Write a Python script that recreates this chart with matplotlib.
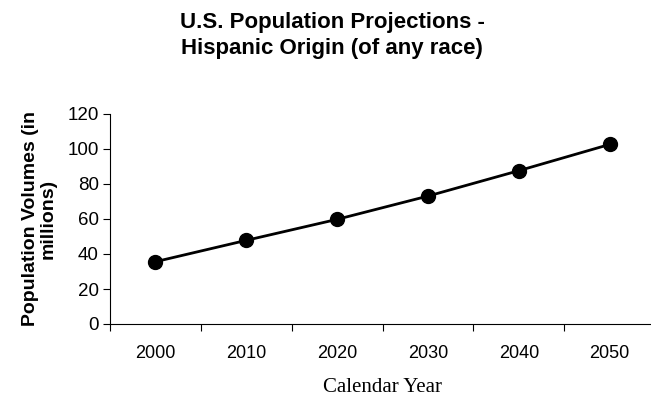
import numpy as np
import matplotlib.pyplot as plt

years = ["2000", "2010", "2020", "2030", "2040", "2050"]
hispanic_millions = [35.6, 47.8, 59.8, 73.1, 87.6, 102.6]
y_ticks = [0, 20, 40, 60, 80, 100, 120]

plt.rcParams["font.family"] = ["Liberation Sans", "DejaVu Sans"]

fig = plt.figure(figsize=(6.51, 4.0), dpi=100)
# axis runs off the right edge like the original export
ax = fig.add_axes([110 / 651, 76 / 400, 545 / 651, 210 / 400])

x = np.arange(len(years))
ax.plot(x, hispanic_millions, color="black", lw=2.0, marker="o",
        markersize=10, clip_on=False)

ax.set_xlim(-0.5, len(years) - 0.5)
ax.set_ylim(0, 120)
ax.set_yticks(y_ticks)
ax.set_xticks(x)
ax.set_xticklabels(years)
# category boundaries carry the tick marks
ax.set_xticks(np.arange(-0.5, len(years)), minor=True)
ax.tick_params(axis="x", which="major", length=0, pad=15, labelsize=13)
ax.tick_params(axis="x", which="minor", length=5, width=0.8, direction="out")
ax.tick_params(axis="y", length=5, width=0.8, direction="out", labelsize=13.5, pad=3)

for side in ("top", "right"):
    ax.spines[side].set_visible(False)
ax.spines["left"].set_linewidth(0.8)
ax.spines["bottom"].set_linewidth(0.8)

ax.set_ylabel("Population Volumes (in\nmillions)", fontsize=14, fontweight="bold",
              linespacing=1.0, labelpad=8)
ax.set_xlabel("Calendar Year", fontsize=15, family=["Liberation Serif", "DejaVu Serif"],
              labelpad=12)

fig.text(0.51, 0.97, "U.S. Population Projections -\nHispanic Origin (of any race)",
         ha="center", va="top", fontsize=16, fontweight="bold", linespacing=1.3)

fig.savefig("out.png", dpi=100)
